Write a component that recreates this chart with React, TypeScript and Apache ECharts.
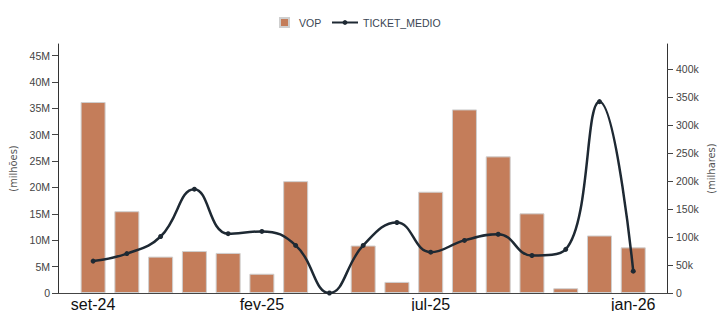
import React, { useEffect, useRef } from "react";
import * as echarts from "echarts";

const months = [
  "set-24", "out-24", "nov-24", "dez-24", "jan-25", "fev-25", "mar-25", "abr-25", "mai-25",
  "jun-25", "jul-25", "ago-25", "set-25", "out-25", "nov-25", "dez-25", "jan-26",
];
// VOP in millions
const vopMillions = [36.2, 15.5, 6.9, 7.95, 7.6, 3.65, 21.2, 0, 9.0, 2.1, 19.2, 34.8, 25.9, 15.1, 0.9, 10.9, 8.65];
// TICKET_MEDIO in thousands
const ticketThousands = [57, 70.5, 101, 185.5, 106, 110, 85, 0, 85, 126, 73, 94, 105, 67, 78, 342, 39];

const xLabelIdx = [0, 5, 10, 16];
const leftTicks = [0, 5, 10, 15, 20, 25, 30, 35, 40, 45];
const rightTicks = [0, 50, 100, 150, 200, 250, 300, 350, 400];

const BAR = "#c47d5a";
const LINE = "#1e2933";
const FONT = "'Liberation Sans', Arial, sans-serif";
const NARROW = "'Liberation Sans Narrow', 'DejaVu Sans Condensed', 'Liberation Sans', sans-serif";

export default function App() {
  const ref = useRef<HTMLDivElement>(null);
  useEffect(() => {
    if (!ref.current) return;
    const chart = echarts.init(ref.current, null, { renderer: "svg" });
    const axisLine = { show: true, onZero: false, lineStyle: { color: "#333", width: 1 } };
    chart.setOption({
      animation: false,
      textStyle: { fontFamily: FONT },
      legend: [
        {
          data: ["VOP"],
          left: 274,
          top: 12,
          itemWidth: 9,
          itemHeight: 9,
          icon: "rect",
          textStyle: { fontSize: 10.5, color: "#3a4654", fontFamily: FONT, padding: [0, 0, 0, 5] },
        },
        {
          data: ["TICKET_MEDIO"],
          left: 326,
          top: 12,
          itemWidth: 26,
          itemHeight: 6,
          textStyle: { fontSize: 10.5, color: "#3a4654", fontFamily: FONT },
        },
      ],
      grid: { left: 58, right: 52, top: 44, bottom: 18, containLabel: false, outerBoundsMode: "none" },
      xAxis: {
        type: "value",
        min: -1.04,
        max: 17.0,
        axisLine: { show: true, onZero: false, lineStyle: { color: "#444", width: 1 } },
        axisTick: { show: false },
        splitLine: { show: false },
        axisLabel: {
          customValues: xLabelIdx,
          formatter: (v: number) => months[Math.round(v)] ?? "",
          fontSize: 16,
          color: "#111",
          margin: 3,
          fontFamily: FONT,
        },
      },
      yAxis: [
        {
          type: "value",
          position: "left",
          min: 0,
          max: 47.2,
          name: "(milhões)",
          nameLocation: "middle",
          nameRotate: 90,
          nameGap: 39,
          nameTextStyle: { fontSize: 11, color: "#555", fontFamily: NARROW },
          axisLine,
          axisTick: { show: true, length: 6, customValues: leftTicks, lineStyle: { color: "#444" } },
          splitLine: { show: false },
          axisLabel: {
            customValues: leftTicks,
            formatter: (v: number) => (v === 0 ? "0" : v + "M"),
            fontSize: 10.5,
            color: "#444",
            margin: 8,
          },
        },
        {
          type: "value",
          position: "right",
          min: 0,
          max: 445,
          name: "(milhares)",
          nameLocation: "middle",
          nameRotate: 90,
          nameGap: 39,
          nameMoveOverlap: false,
          nameTextStyle: { fontSize: 11, color: "#555", fontFamily: NARROW },
          axisLine,
          axisTick: { show: true, length: 6, customValues: rightTicks, lineStyle: { color: "#444" } },
          splitLine: { show: false },
          axisLabel: {
            customValues: rightTicks,
            formatter: (v: number) => (v === 0 ? "0" : v + "k"),
            fontSize: 10.5,
            color: "#444",
            margin: 9,
          },
        },
      ],
      series: [
        {
          name: "VOP",
          type: "bar",
          yAxisIndex: 0,
          barWidth: 25,
          itemStyle: { color: BAR, borderColor: "#cfcfcf", borderWidth: 1 },
          data: vopMillions.map((v, i) => ({
            value: [i, v],
            itemStyle: v === 0 ? { borderWidth: 0 } : undefined,
          })),
        },
        {
          name: "TICKET_MEDIO",
          type: "line",
          yAxisIndex: 1,
          smooth: 0.45,
          symbol: "circle",
          symbolSize: 5,
          itemStyle: { color: LINE },
          lineStyle: { color: LINE, width: 2.5 },
          data: ticketThousands.map((v, i) => [i, v]),
          z: 3,
        },
      ],
    });
    return () => chart.dispose();
  }, []);
  return (
    <div
      ref={ref}
      style={{ position: "fixed", left: 0, top: 0, width: 719, height: 311, background: "#fff" }}
    />
  );
}
